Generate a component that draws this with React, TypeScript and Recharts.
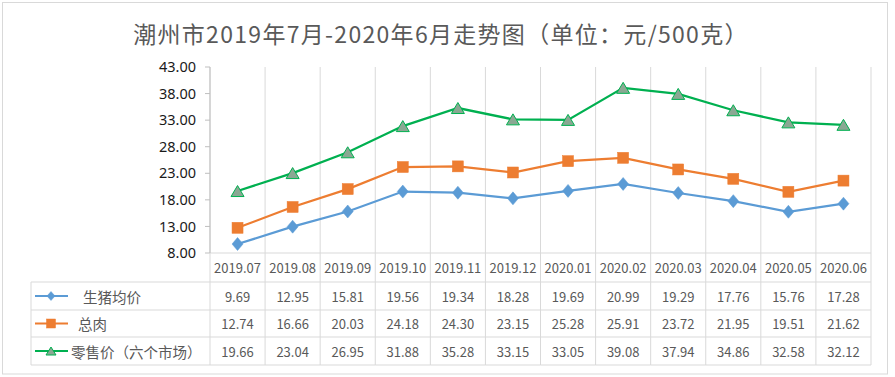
import React from 'react';
import { LineChart, Line, XAxis, YAxis, CartesianGrid } from 'recharts';

const title = '潮州市2019年7月-2020年6月走势图（单位：元/500克）';
const categories = ['2019.07', '2019.08', '2019.09', '2019.10', '2019.11', '2019.12', '2020.01', '2020.02', '2020.03', '2020.04', '2020.05', '2020.06'];
const pigPrice = [9.69, 12.95, 15.81, 19.56, 19.34, 18.28, 19.69, 20.99, 19.29, 17.76, 15.76, 17.28];
const totalMeat = [12.74, 16.66, 20.03, 24.18, 24.3, 23.15, 25.28, 25.91, 23.72, 21.95, 19.51, 21.62];
const retailPrice = [19.66, 23.04, 26.95, 31.88, 35.28, 33.15, 33.05, 39.08, 37.94, 34.86, 32.58, 32.12];
const seriesNames = ['生猪均价', '总肉', '零售价（六个市场）'];
const yTicks = [8, 13, 18, 23, 28, 33, 38, 43];

const BLUE = '#5B9BD5';
const ORANGE = '#ED7D31';
const GREEN = '#00B050';
const TRI_FILL = '#8AA893';
const GRID = '#d9d9d9';
const TEXT = '#595959';
const CJK = '"Noto Sans CJK SC", "Noto Sans", sans-serif';

const data = categories.map((c, i) => ({
  cat: c,
  pig: pigPrice[i],
  meat: totalMeat[i],
  retail: retailPrice[i],
}));

const seriesValues = [pigPrice, totalMeat, retailPrice];

const Diamond = ({ cx, cy, w = 5.5, h = 6.5 }: any) => (
  <polygon points={`${cx},${cy - h} ${cx + w},${cy} ${cx},${cy + h} ${cx - w},${cy}`} fill={BLUE} stroke={BLUE} strokeWidth={0.5} />
);
const Square = ({ cx, cy, s = 5.5 }: any) => (
  <rect x={cx - s} y={cy - s} width={s * 2} height={s * 2} fill={ORANGE} stroke={ORANGE} strokeWidth={0.5} />
);
const Triangle = ({ cx, cy, w = 6.5, h = 5.5 }: any) => (
  <polygon points={`${cx},${cy - h} ${cx + w},${cy + h} ${cx - w},${cy + h}`} fill={TRI_FILL} stroke={GREEN} strokeWidth={1} />
);

const markers = [
  (cx: number, cy: number, small?: boolean) => <Diamond cx={cx} cy={cy} w={small ? 4 : 5.5} h={small ? 4.5 : 6.5} />,
  (cx: number, cy: number, small?: boolean) => <Square cx={cx} cy={cy} s={small ? 4.5 : 5.5} />,
  (cx: number, cy: number, small?: boolean) => <Triangle cx={cx} cy={cy} w={small ? 5 : 6.5} h={small ? 4 : 5.5} />,
];
const colors = [BLUE, ORANGE, GREEN];

const rowEdges = [0, 29, 57, 84, 112];
const TABLE_LEFT = 31;

const TableTick = (props: any) => {
  const { x, y, payload } = props;
  const index = props.index ?? payload?.index ?? 0;
  const half = payload && payload.offset ? payload.offset : 27.5;
  const left = x - half;
  const right = x + half;
  const els: any[] = [];
  els.push(
    <text key="h" x={x} y={y + (rowEdges[0] + rowEdges[1]) / 2} textAnchor="middle" dominantBaseline="central" fontSize={13} fill={TEXT} fontFamily={CJK}>
      {payload.value}
    </text>
  );
  els.push(<line key="rb" x1={right} y1={y} x2={right} y2={y + rowEdges[4]} stroke={GRID} />);
  if (index === 0) {
    els.push(<line key="lb" x1={left} y1={y} x2={left} y2={y + rowEdges[4]} stroke={GRID} />);
    els.push(<line key="tl" x1={TABLE_LEFT} y1={y + rowEdges[1]} x2={TABLE_LEFT} y2={y + rowEdges[4]} stroke={GRID} />);
  }
  for (let r = 1; r < rowEdges.length; r++) {
    els.push(
      <line key={'hl' + r} x1={index === 0 ? TABLE_LEFT : left} y1={y + rowEdges[r]} x2={right} y2={y + rowEdges[r]} stroke={GRID} />
    );
  }
  for (let s = 0; s < 3; s++) {
    const cy = y + (rowEdges[s + 1] + rowEdges[s + 2]) / 2;
    els.push(
      <text key={'v' + s} x={x} y={cy} textAnchor="middle" dominantBaseline="central" fontSize={13} fill={TEXT} fontFamily={CJK}>
        {seriesValues[s][index].toFixed(2)}
      </text>
    );
    if (index === 0) {
      els.push(<line key={'ll' + s} x1={35} y1={cy} x2={68} y2={cy} stroke={colors[s]} strokeWidth={2} />);
      els.push(<g key={'lm' + s}>{markers[s](51, cy, true)}</g>);
      const tx = s === 0 ? 83 : s === 1 ? 78 : 71;
      els.push(
        <text key={'lt' + s} x={tx} y={cy} dominantBaseline="central" fontSize={14.5} fill={TEXT} fontFamily={CJK}>
          {seriesNames[s]}
        </text>
      );
    }
  }
  return <g>{els}</g>;
};

const makeDot = (s: number) => (p: any) => <g key={`d${s}-${p.index}`}>{markers[s](p.cx, p.cy)}</g>;

export default function App() {
  const n = categories.length;
  return (
    <div style={{ position: 'absolute', left: 0, top: 0, width: 895, height: 377, background: '#fff' }}>
      <svg width={895} height={377} style={{ position: 'absolute', left: 0, top: 0 }}>
        <rect x={2.5} y={2.5} width={885} height={371.5} fill="#fff" stroke={GRID} />
        <text x={441} y={33} textAnchor="middle" dominantBaseline="central" fontSize={23} letterSpacing={1.3} fill={TEXT} fontFamily={CJK}>
          {title}
        </text>
      </svg>
      <div style={{ position: 'absolute', left: 0, top: 0 }}>
        <LineChart width={895} height={377} data={data} margin={{ top: 67, right: 24, bottom: 12, left: 0 }}>
          <CartesianGrid
            horizontal={false}
            stroke={GRID}
            verticalCoordinatesGenerator={({ offset }: any) =>
              Array.from({ length: n + 1 }, (_, i) => offset.left + (i * offset.width) / n)
            }
          />
          <XAxis
            dataKey="cat"
            scale="band"
            interval={0}
            height={112}
            tickLine={false}
            tickSize={0}
            tickMargin={0}
            axisLine={{ stroke: GRID }}
            tick={(p: any) => <TableTick {...p} />}
          />
          <YAxis
            width={210}
            domain={[8, 43]}
            ticks={yTicks}
            interval={0}
            allowDataOverflow
            tickFormatter={(v: number) => v.toFixed(2)}
            axisLine={{ stroke: '#bfbfbf' }}
            tickLine={{ stroke: '#bfbfbf' }}
            tickSize={5}
            tickMargin={9}
            tick={{ fill: '#1a1a1a', fontSize: 14.5, fontFamily: '"Noto Sans", sans-serif' }}
          />
          <Line type="linear" dataKey="pig" stroke={BLUE} strokeWidth={2.25} dot={makeDot(0)} isAnimationActive={false} />
          <Line type="linear" dataKey="meat" stroke={ORANGE} strokeWidth={2.25} dot={makeDot(1)} isAnimationActive={false} />
          <Line type="linear" dataKey="retail" stroke={GREEN} strokeWidth={2.25} dot={makeDot(2)} isAnimationActive={false} />
        </LineChart>
      </div>
    </div>
  );
}
